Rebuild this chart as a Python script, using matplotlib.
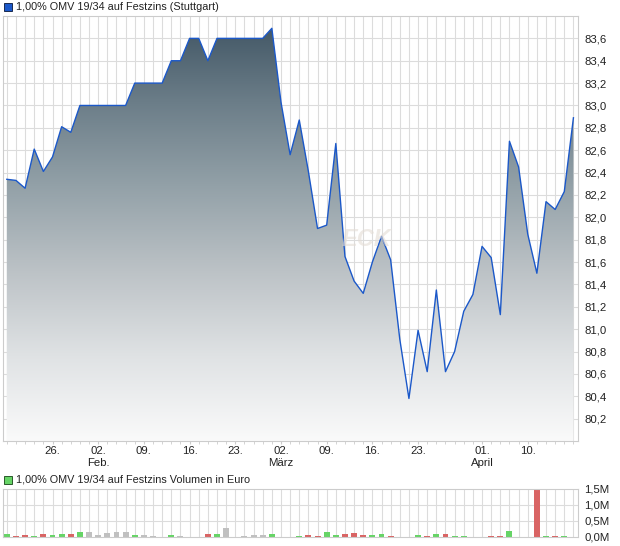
import matplotlib
matplotlib.use("Agg")
import matplotlib.pyplot as plt
import numpy as np
from matplotlib.colors import LinearSegmentedColormap
from matplotlib.patches import Rectangle

plt.rcParams['font.family'] = ['Liberation Sans', 'DejaVu Sans']

# Kurse (Handelstage 19.01. - 17.04.)
kurs = [82.34, 82.33, 82.26, 82.61, 82.41, 82.54, 82.81, 82.76, 83.00, 83.00,
        83.00, 83.00, 83.00, 83.00, 83.20, 83.20, 83.20, 83.20, 83.40, 83.40,
        83.60, 83.60, 83.40, 83.60, 83.60, 83.60, 83.60, 83.60, 83.60, 83.69,
        83.03, 82.56, 82.87, 82.41, 81.90, 81.93, 82.66, 81.65, 81.43, 81.32,
        81.60, 81.83, 81.62, 80.91, 80.38, 80.99, 80.62, 81.35, 80.62, 80.80,
        81.16, 81.31, 81.74, 81.64, 81.13, 82.68, 82.45, 81.85, 81.50, 82.14,
        82.07, 82.23, 82.89]

# Volumen in Mio. Euro
volumen = [0.085, 0.02, 0.053, 0.02, 0.085, 0.053, 0.085, 0.085, 0.148, 0.148,
           0.053, 0.116, 0.148, 0.148, 0.053, 0.053, 0.02, 0.0, 0.053, 0.02,
           0.0, 0.0, 0.085, 0.085, 0.275, 0.0, 0.02, 0.053, 0.053, 0.085,
           0.0, 0.0, 0.02, 0.053, 0.02, 0.148, 0.053, 0.085, 0.116, 0.053,
           0.053, 0.085, 0.02, 0.0, 0.0, 0.053, 0.02, 0.085, 0.085, 0.02,
           0.02, 0.0, 0.0, 0.02, 0.02, 0.18, 0.0, 0.0, 1.48, 0.02,
           0.02, 0.02, 0.0]

tick_pos = [5, 10, 15, 20, 25, 30, 35, 40, 45, 52, 57]
tick_lab = ["26.", "02.\nFeb.", "09.", "16.", "23.", "02.\nMärz", "09.",
            "16.", "23.", "01.\nApril", "10."]

y_ticks = [80.2, 80.4, 80.6, 80.8, 81.0, 81.2, 81.4, 81.6, 81.8, 82.0,
           82.2, 82.4, 82.6, 82.8, 83.0, 83.2, 83.4, 83.6]
vol_ticks = [0.0, 0.5, 1.0, 1.5]

titel = "1,00% OMV 19/34 auf Festzins (Stuttgart)"
titel_vol = "1,00% OMV 19/34 auf Festzins Volumen in Euro"

GRID = '#dcdcdc'
FRAME = '#cccccc'

def main():
    x = np.arange(len(kurs))
    kurs_a = np.array(kurs)
    W, H = 620, 546
    fig = plt.figure(figsize=(W / 100, H / 100), dpi=100)

    def box(l, t, r, b):
        return [l / W, 1 - b / H, (r - l) / W, (b - t) / H]

    xmin, xmax = -0.45, 62.5
    ymin, ymax = 80.0, 83.8

    # Kurs-Chart
    ax = fig.add_axes(box(2.7, 16, 578, 441))
    ax.set_xlim(xmin, xmax)
    ax.set_ylim(ymin, ymax)
    ax.set_axisbelow(True)
    for v in y_ticks:
        ax.axhline(v, color=GRID, lw=0.8, zorder=0)
    for i in x:
        ax.axvline(i, color=GRID, lw=0.8, zorder=0)

    cmap = LinearSegmentedColormap.from_list(
        'verlauf', ['#fafafa', '#dfe2e4', '#bcc2c6', '#93a1a8', '#6b7d88', '#3e5362'])
    grad = np.linspace(0, 1, 256).reshape(-1, 1)
    img = ax.imshow(grad, extent=[xmin, xmax, ymin, ymax], aspect='auto',
                    cmap=cmap, origin='lower', zorder=1)
    poly = ax.fill_between(x, kurs_a, ymin, color='none', lw=0)
    img.set_clip_path(poly.get_paths()[0], ax.transData)
    ax.plot(x, kurs_a, color='#1b58c9', lw=1.0, zorder=3)

    ax.text(0.633, 0.473, "ECK", transform=ax.transAxes, fontsize=17,
            fontstyle='italic', fontweight='bold', color='#e4dcd5', alpha=0.6,
            ha='center', va='center', zorder=4)

    for s in ax.spines.values():
        s.set_color(FRAME)
        s.set_linewidth(0.8)
    ax.yaxis.tick_right()
    ax.set_yticks(y_ticks)
    ax.set_yticklabels([f"{v:.1f}".replace('.', ',') for v in y_ticks])
    ax.tick_params(axis='y', length=0, pad=4.5, labelsize=8.2, colors='#222222')
    ax.set_xticks(tick_pos)
    ax.set_xticklabels(tick_lab)
    ax.set_xticks(x, minor=True)
    ax.tick_params(axis='x', which='both', length=2.5, color=FRAME, pad=1.2,
                   labelsize=8.2, labelcolor='#222222')

    # Volumen-Chart
    av = fig.add_axes(box(2.7, 489, 578, 537))
    av.set_xlim(xmin, xmax)
    av.set_ylim(0, 1.5)
    for v in vol_ticks[1:3]:
        av.axhline(v, color=GRID, lw=0.8, zorder=0)
    for i in x:
        av.axvline(i, color=GRID, lw=0.8, zorder=0)
    diff = np.diff(kurs_a, prepend=kurs_a[0] - 1)
    farben = ['#66d466' if d > 1e-9 else ('#d96464' if d < -1e-9 else '#c0c0c0')
              for d in diff]
    av.bar(x, volumen, width=0.65, color=farben, zorder=2)
    for s in av.spines.values():
        s.set_color(FRAME)
        s.set_linewidth(0.8)
    av.yaxis.tick_right()
    av.set_yticks(vol_ticks)
    av.set_yticklabels([f"{v:.1f}M".replace('.', ',') for v in vol_ticks])
    av.tick_params(axis='y', length=0, pad=4.5, labelsize=8.2, colors='#222222')
    av.set_xticks([])

    # Legenden-Kopfzeilen
    fig.add_artist(Rectangle((4 / W, 1 - 11 / H), 8 / W, 8 / H, transform=fig.transFigure,
                             facecolor='#1b58c9', edgecolor='#1a2a50', lw=0.7))
    fig.text(16 / W, 1 - 7 / H, titel, fontsize=7.8, va='center', ha='left', color='#222222')
    fig.add_artist(Rectangle((4 / W, 1 - 484 / H), 8 / W, 8 / H, transform=fig.transFigure,
                             facecolor='#66d466', edgecolor='#2a5a2a', lw=0.7))
    fig.text(16 / W, 1 - 480 / H, titel_vol, fontsize=7.8, va='center', ha='left', color='#222222')

    fig.savefig("out.png", dpi=100)

if __name__ == "__main__":
    main()
